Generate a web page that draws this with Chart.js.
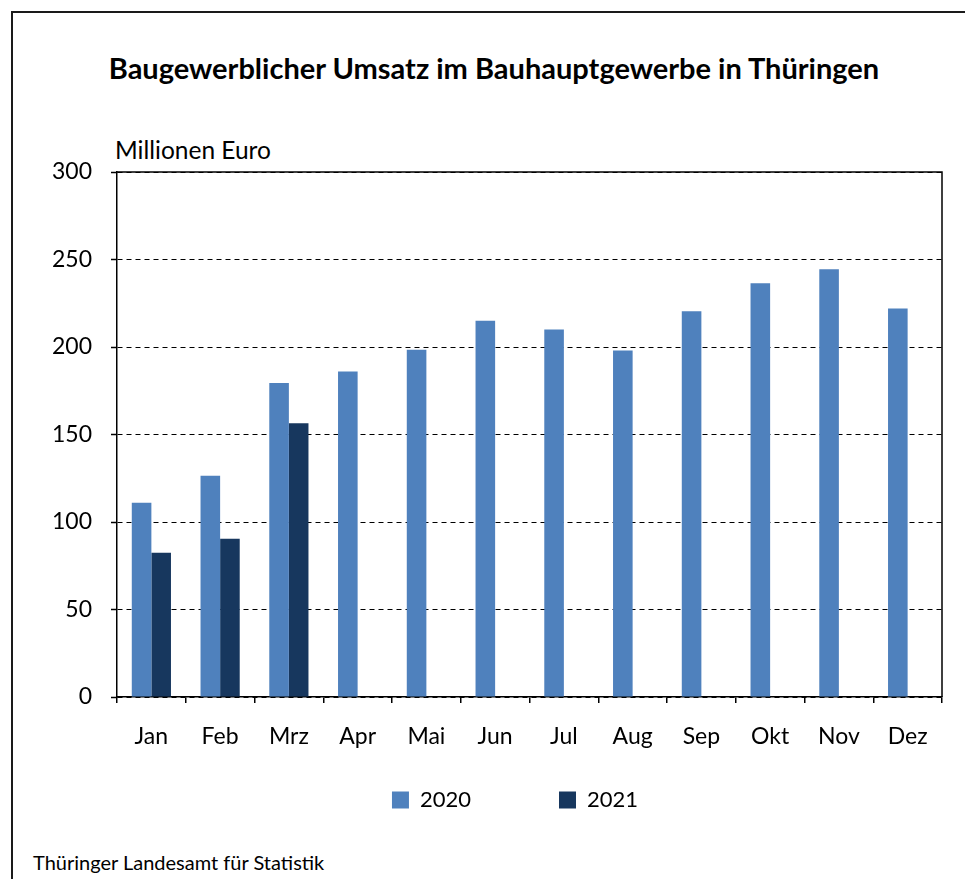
<!DOCTYPE html>
<html>
<head>
<meta charset="utf-8">
<script src="https://cdn.jsdelivr.net/npm/chart.js@4"></script>
<style>
  html, body { margin: 0; padding: 0; background: #fff; }
  body { width: 965px; height: 879px; position: relative; overflow: hidden; font-family: Lato, sans-serif; color: #000; }
  #frame { position: absolute; left: 11px; top: 11px; width: 2000px; height: 2000px; border-left: 2px solid #1a1a1a; border-top: 2px solid #1a1a1a; }
  #title { position: absolute; left: 494px; top: 51px; transform: translateX(-50%); white-space: nowrap; font-weight: bold; font-size: 29px; line-height: 34px; }
  #unit { position: absolute; left: 115px; top: 135px; font-size: 24.5px; line-height: 30px; }
  #source { position: absolute; left: 33px; top: 850px; font-size: 20px; line-height: 24px; }
  canvas { position: absolute; left: 0; top: 0; }
</style>
</head>
<body>
<div id="frame"></div>
<div id="title">Baugewerblicher Umsatz im Bauhauptgewerbe in Thüringen</div>
<div id="unit">Millionen Euro</div>
<div id="source">Thüringer Landesamt für Statistik</div>
<canvas id="chart" width="965" height="879"></canvas>
<script>
// Umsatz in Mio. Euro
const months = ['Jan', 'Feb', 'Mrz', 'Apr', 'Mai', 'Jun', 'Jul', 'Aug', 'Sep', 'Okt', 'Nov', 'Dez'];
const values2020 = [111, 126.5, 179.5, 186, 198.5, 215, 210, 198, 220.5, 236.5, 244.5, 222];
const values2021 = [82.5, 90.5, 156.5, null, null, null, null, null, null, null, null, null];
const yTicks = [0, 50, 100, 150, 200, 250, 300];

Chart.defaults.font.family = 'Lato, sans-serif';
Chart.defaults.color = '#000';

// solid frame on top and right of the plot area
const plotFrame = {
  id: 'plotFrame',
  afterDraw(chart) {
    const { ctx, chartArea: a } = chart;
    ctx.save();
    ctx.strokeStyle = '#000';
    ctx.lineWidth = 1.5;
    ctx.beginPath();
    ctx.moveTo(a.left, a.top);
    ctx.lineTo(a.right, a.top);
    ctx.lineTo(a.right, a.bottom);
    ctx.stroke();
    ctx.restore();
  }
};

// the big label padding is only meant as gap between the two entries,
// so pull the legend box back up and a bit to the right
const legendPlace = {
  id: 'legendPlace',
  afterLayout(chart) {
    const lg = chart.legend;
    const h = lg.height;
    lg.top = chart.chartArea.bottom + 4;
    lg.bottom = lg.top + h;
    lg.left += 88;
  }
};

new Chart(document.getElementById('chart'), {
  type: 'bar',
  data: {
    labels: months,
    datasets: [{
      label: '2020',
      data: values2020,
      backgroundColor: '#4F81BD'
    }, {
      label: '2021',
      data: values2021,
      backgroundColor: '#17375E'
    }]
  },
  options: {
    responsive: false,
    devicePixelRatio: 1,
    animation: false,
    datasets: { bar: { categoryPercentage: 0.57, barPercentage: 1 } },
    layout: { padding: { top: 172, right: 23, bottom: 0, left: 0 } },
    scales: {
      x: {
        afterFit: axis => { axis.height = 62; },
        grid: { drawOnChartArea: false, color: '#000', tickLength: 6, lineWidth: 1.5 },
        border: { color: '#000', width: 1.5 },
        ticks: { font: { size: 23 }, padding: 20 }
      },
      y: {
        min: 0,
        max: 300,
        afterFit: axis => { axis.width = 117; },
        afterBuildTicks: axis => { axis.ticks = yTicks.map(v => ({ value: v })); },
        grid: { color: '#000', lineWidth: 1, tickLength: 6, tickBorderDash: [], tickColor: '#000', tickWidth: 1.5 },
        border: { color: '#000', width: 1.5, dash: [5, 4] },
        ticks: { font: { size: 23 }, padding: 19 }
      }
    },
    plugins: {
      legend: {
        position: 'bottom',
        labels: { boxWidth: 17, boxHeight: 17, padding: 88, font: { size: 22 } }
      },
      tooltip: { enabled: false }
    }
  },
  plugins: [plotFrame, legendPlace]
});
</script>
</body>
</html>
